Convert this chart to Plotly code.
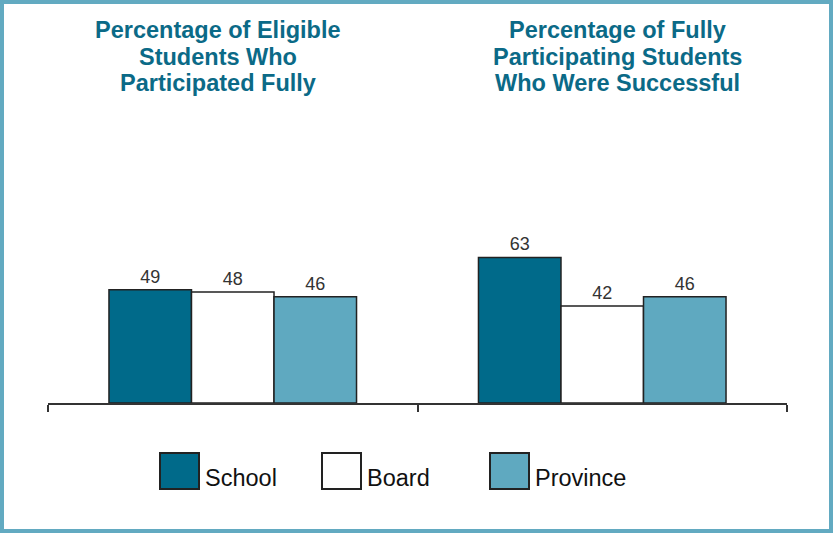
import plotly.graph_objects as go

categories = ["Eligible", "Successful"]
title_lines = [["Percentage of Eligible", "Students Who", "Participated Fully"],
               ["Percentage of Fully", "Participating Students", "Who Were Successful"]]
series_names = ["School", "Board", "Province"]
school = [49, 63]
board = [48, 42]
province = [46, 46]
values = [school, board, province]
colors = ["#006a8a", "#ffffff", "#5fa9c0"]

W, H = 833, 533
L, R, T, B = 48, 46, 172, 130
pw = W - L - R
ph = H - T - B

def py(p):
    return (T + ph - p) / ph

def px(p):
    return (p - L) / pw

fig = go.Figure()
for name, vals, col in zip(series_names, values, colors):
    fig.add_trace(go.Bar(
        x=categories, y=vals, name=name,
        marker=dict(color=col, line=dict(color="#222222", width=1.5)),
        text=[str(v) for v in vals], textposition="outside",
        textfont=dict(family="Liberation Sans, Arial", size=18, color="#333333"),
        cliponaxis=False, showlegend=False,
    ))

annotations = []
title_cx = [218, 617]
for cx, lines in zip(title_cx, title_lines):
    for j, line in enumerate(lines):
        annotations.append(dict(
            x=px(cx), y=py(30 + 26.5 * j), xref="paper", yref="paper",
            text="<b>" + line + "</b>", showarrow=False, yanchor="middle", xanchor="center",
            font=dict(family="Liberation Sans, Arial", size=23.5, color="#0b6a87"),
        ))

shapes = []
legend_sq_x = [160, 322, 490]
for name, col, sx in zip(series_names, colors, legend_sq_x):
    shapes.append(dict(type="rect", xref="paper", yref="paper",
                       x0=px(sx), x1=px(sx + 39), y0=py(489), y1=py(453),
                       fillcolor=col, line=dict(color="#222222", width=2)))
    annotations.append(dict(
        x=px(sx + 43), y=py(478), xref="paper", yref="paper",
        text=name, showarrow=False, xanchor="left", yanchor="middle",
        font=dict(family="Liberation Sans, Arial", size=23.5, color="#111111"),
    ))

# outer border
shapes.append(dict(type="rect", xref="paper", yref="paper",
                   x0=px(2), x1=px(W - 2), y0=py(H - 2), y1=py(2),
                   line=dict(color="#62aac1", width=4), fillcolor="rgba(0,0,0,0)"))

fig.update_layout(
    width=W, height=H,
    margin=dict(l=L, r=R, t=T, b=B),
    paper_bgcolor="white", plot_bgcolor="white",
    barmode="group", bargap=0.33, bargroupgap=0,
    annotations=annotations, shapes=shapes,
    xaxis=dict(type="category", tickson="boundaries", ticks="outside", ticklen=7,
               tickcolor="#333333", tickwidth=1.5,
               showticklabels=False, showline=True, linecolor="#333333", linewidth=1.5,
               showgrid=False, zeroline=False),
    yaxis=dict(range=[0, 100], visible=False, showgrid=False, zeroline=False),
)

fig.write_html("out.html", config={"displayModeBar": False},
               post_script="document.body.style.margin='0';document.body.style.overflow='hidden';")
